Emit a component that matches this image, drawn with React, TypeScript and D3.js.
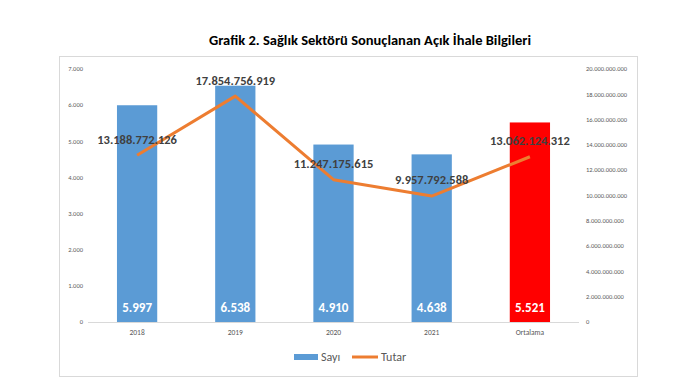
import React from "react";
import * as d3 from "d3";

const categories = ["2018", "2019", "2020", "2021", "Ortalama"];
const sayi = [5997, 6538, 4910, 4638, 5521];
const tutar = [13188772126, 17854756919, 11247175615, 9957792588, 13062124312];
const leftTicks = [0, 1000, 2000, 3000, 4000, 5000, 6000, 7000];
const rightTicks = [0, 2e9, 4e9, 6e9, 8e9, 10e9, 12e9, 14e9, 16e9, 18e9, 20e9];
const barColors = ["#5B9BD5", "#5B9BD5", "#5B9BD5", "#5B9BD5", "#FF0000"];

const fmt = (v: number) => Math.round(v).toString().replace(/\B(?=(\d{3})+(?!\d))/g, ".");

export default function App() {
  const W = 691, H = 386;
  const left = 88, right = 579, top = 69, bottom = 322;
  const x = d3.scaleBand<string>().domain(categories).range([left, right]).paddingInner(0.59).paddingOuter(0.295);
  const yL = d3.scaleLinear().domain([0, 7000]).range([bottom, top]);
  const yR = d3.scaleLinear().domain([0, 20e9]).range([bottom, top]);
  const cx = (c: string) => (x(c) as number) + x.bandwidth() / 2;
  const line = d3.line<number>().x((_, i) => cx(categories[i])).y((d) => yR(d));
  const font = "Carlito, Calibri, 'Open Sans', 'Liberation Sans', sans-serif";
  return (
    <svg width={W} height={H} style={{ position: "absolute", left: 0, top: 0, fontFamily: font }}>
      <rect x={0} y={0} width={W} height={H} fill="#fff" />
      <text x={370} y={45} textAnchor="middle" fontSize={14.5} fontWeight="bold" fill="#000">
        Grafik 2. Sağlık Sektörü Sonuçlanan Açık İhale Bilgileri
      </text>
      <rect x={59.5} y={56.5} width={578} height={320} fill="none" stroke="#d9d9d9" />
      {leftTicks.map((t) => (
        <text key={"l" + t} x={83} y={yL(t)} dy="0.35em" textAnchor="end" fontSize={6.5} fill="#595959">
          {fmt(t)}
        </text>
      ))}
      {rightTicks.map((t) => (
        <text key={"r" + t} x={586} y={yR(t)} dy="0.35em" textAnchor="start" fontSize={6.5} fill="#595959">
          {fmt(t)}
        </text>
      ))}
      {sayi.map((v, i) => (
        <rect key={"b" + i} x={x(categories[i])} y={yL(v)} width={x.bandwidth()} height={bottom - yL(v)} fill={barColors[i]} />
      ))}
      <line x1={left} x2={right} y1={bottom + 0.5} y2={bottom + 0.5} stroke="#d9d9d9" />
      {categories.map((c) => (
        <text key={"c" + c} x={cx(c)} y={332} dy="0.35em" textAnchor="middle" fontSize={7.5} fill="#595959">
          {c}
        </text>
      ))}
      <path d={line(tutar) || ""} fill="none" stroke="#ED7D31" strokeWidth={3} strokeLinejoin="round" />
      {sayi.map((v, i) => (
        <text key={"sv" + i} x={cx(categories[i])} y={307} dy="0.35em" textAnchor="middle" fontSize={13} fontWeight="bold" fill="#fff">
          {fmt(v)}
        </text>
      ))}
      {tutar.map((v, i) => (
        <text key={"tv" + i} x={cx(categories[i])} y={yR(v) - 16} dy="0.35em" textAnchor="middle" fontSize={12.5} fontWeight="bold" fill="#404040">
          {fmt(v)}
        </text>
      ))}
      <rect x={294} y={354} width={24} height={6} fill="#5B9BD5" />
      <text x={321} y={357} dy="0.35em" fontSize={12} fill="#595959">Sayı</text>
      <line x1={352} x2={378} y1={357} y2={357} stroke="#ED7D31" strokeWidth={3} />
      <text x={381} y={357} dy="0.35em" fontSize={12} fill="#595959">Tutar</text>
    </svg>
  );
}
